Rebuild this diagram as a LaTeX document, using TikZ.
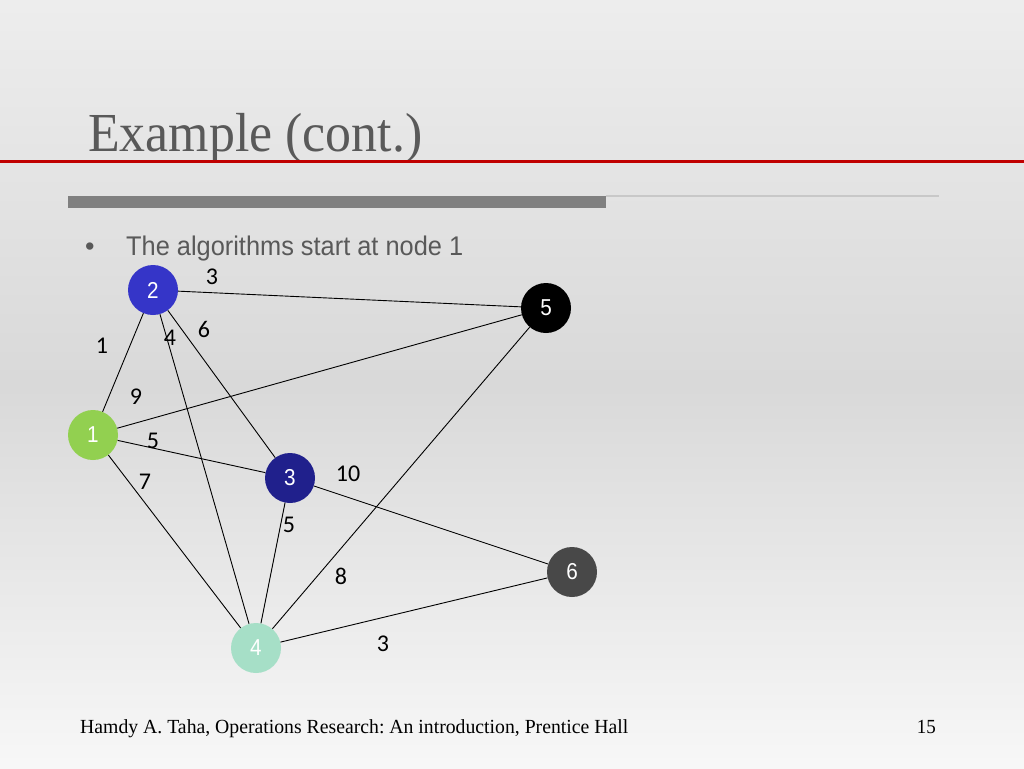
\documentclass[tikz,border=0pt]{standalone}
\usepackage{fontspec}
\setmainfont{Liberation Serif}
\newfontfamily\arialf{Liberation Sans}
\newfontfamily\calf{Carlito}
\definecolor{titlegray}{HTML}{595959}
\definecolor{redline}{HTML}{C00000}
\definecolor{barg}{HTML}{808080}
\definecolor{thing}{HTML}{C8C8C8}
\definecolor{cA}{HTML}{92D050}
\definecolor{cB}{HTML}{3535C8}
\definecolor{cC}{HTML}{20208C}
\definecolor{cD}{HTML}{A6DFC7}
\definecolor{cE}{HTML}{000000}
\definecolor{cF}{HTML}{484848}
\frenchspacing
\begin{document}
\begin{tikzpicture}[x=1pt,y=-1pt,
  vert/.style={circle,minimum size=50pt,inner sep=0pt,text=white,
    font=\arialf\fontsize{23}{23}\selectfont},
  edge/.style={draw=black,line width=0.9pt},
  wlab/.style={inner sep=0pt,font=\calf\fontsize{24}{24}\selectfont,text=black}]
\useasboundingbox (0,0) rectangle (1024,768);
\shade[top color=white!93!black, bottom color=white!97!black, middle color=white!85!black] (0,0) rectangle (1024,768);
% header
\node[anchor=base west,inner sep=0pt,text=titlegray,font=\fontsize{55}{55}\selectfont] (title) at (88,151) {\resizebox{334pt}{\height}{Example (cont.)}};
\fill[redline] (0,159.5) rectangle (1024,163);
\fill[thing] (606,195) rectangle (939,197);
\fill[barg] (68,196) rectangle (606,208);
\node[anchor=base west,inner sep=0pt,text=titlegray,font=\arialf\fontsize{27}{27}\selectfont] (bul) at (85,255) {\textbullet};
\node[anchor=base west,inner sep=0pt,text=titlegray,font=\arialf\fontsize{27}{27}\selectfont] (btext) at (126,255) {\resizebox{337pt}{\height}{The algorithms start at node 1}};
% vertices
\node[vert,fill=cA] (n1) at (93,435) {\scalebox{0.9}[1]{1}};
\node[vert,fill=cB] (n2) at (153,290) {\scalebox{0.9}[1]{2}};
\node[vert,fill=cC] (n3) at (290,478) {\scalebox{0.9}[1]{3}};
\node[vert,fill=cD] (n4) at (256,648) {\scalebox{0.9}[1]{4}};
\node[vert,fill=cE] (n5) at (546,308) {\scalebox{0.9}[1]{5}};
\node[vert,fill=cF] (n6) at (572,572) {\scalebox{0.9}[1]{6}};
% edges
\draw[edge] (n1) -- (n2);
\draw[edge] (n2) -- (n5);
\draw[edge] (n2) -- (n3);
\draw[edge] (n2) -- (n4);
\draw[edge] (n1) -- (n5);
\draw[edge] (n1) -- (n3);
\draw[edge] (n1) -- (n4);
\draw[edge] (n3) -- (n4);
\draw[edge] (n3) -- (n6);
\draw[edge] (n4) -- (n5);
\draw[edge] (n4) -- (n6);
% weights
\node[wlab] (w25) at (212,277) {3};
\node[wlab] (w12) at (102,346) {1};
\node[wlab] (w24) at (170,338) {4};
\node[wlab] (w23) at (204,329) {6};
\node[wlab] (w15) at (136,397) {9};
\node[wlab] (w13) at (153,441) {5};
\node[wlab] (w14) at (145,482) {7};
\node[wlab] (w36) at (348,474) {10};
\node[wlab] (w34) at (289,525) {5};
\node[wlab] (w45) at (341,576) {8};
\node[wlab] (w46) at (383,644) {3};
% footer
\node[anchor=base west,inner sep=0pt,text=black,font=\fontsize{20}{20}\selectfont] (foot) at (80,733) {\resizebox{548pt}{\height}{Hamdy A. Taha, Operations Research: An introduction, Prentice Hall}};
\node[anchor=base east,inner sep=0pt,text=black,font=\fontsize{20}{20}\selectfont] (pg) at (936,733) {\scalebox{0.95}[1]{15}};
\end{tikzpicture}
\end{document}
